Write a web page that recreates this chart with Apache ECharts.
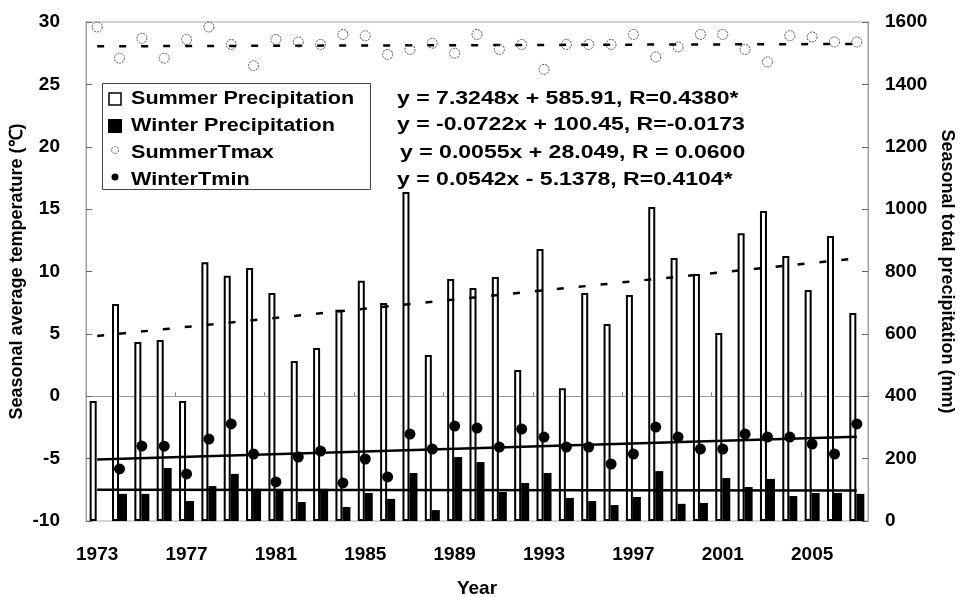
<!DOCTYPE html>
<html>
<head>
<meta charset="utf-8">
<script src="https://cdn.jsdelivr.net/npm/echarts@6/dist/echarts.min.js"></script>
<style>html,body{margin:0;padding:0;background:#fff}#c{width:965px;height:597px}</style>
</head>
<body>
<div id="c"></div>
<script>
const years = ['1973','1974','1975','1976','1977','1978','1979','1980','1981','1982','1983','1984','1985','1986','1987','1988','1989','1990','1991','1992','1993','1994','1995','1996','1997','1998','1999','2000','2001','2002','2003','2004','2005','2006','2007'];
const summerPrecip = [385,696,574,580,385,830,786,811,731,513,555,677,770,699,1055,532,776,747,782,484,872,426,731,632,725,1007,843,792,603,923,994,850,741,914,667];
const winterPrecip = [null,87,87,170,64,112,151,103,99,61,103,45,90,71,154,35,205,189,93,122,154,74,64,51,77,160,55,58,138,109,135,80,90,90,87];
const summerTmax = [29.6,27.1,28.7,27.1,28.6,29.6,28.2,26.5,28.6,28.4,28.2,29.0,28.9,27.4,27.8,28.3,27.5,29.0,27.8,28.2,26.2,28.2,28.2,28.2,29.0,27.2,28.0,29.0,29.0,27.8,26.8,28.9,28.8,28.4,28.4];
const winterTmin = [null,-5.83,-3.99,-4.0,-6.23,-3.43,-2.22,-4.63,-6.87,-4.87,-4.39,-6.95,-5.03,-6.47,-3.03,-4.23,-2.39,-2.55,-4.07,-2.63,-3.27,-4.07,-4.07,-5.43,-4.63,-2.47,-3.27,-4.23,-4.23,-3.03,-3.27,-3.27,-3.83,-4.63,-2.22];
// trend line end values (first year, last year)
const summerPrecipTrend = [593, 842];
const winterPrecipTrend = [100, 98];
const summerTmaxTrend = [28.05, 28.24];
const winterTminTrend = [-5.08, -3.24];
const equations = [
  'y = 7.3248x + 585.91, R=0.4380*',
  'y = -0.0722x + 100.45, R=-0.0173',
  'y = 0.0055x + 28.049, R = 0.0600',
  'y = 0.0542x - 5.1378, R=0.4104*'
];
const legendNames = ['Summer Precipitation','Winter Precipitation','SummerTmax','WinterTmin'];

const chart = echarts.init(document.getElementById('c'), null, {renderer:'canvas'});
const FONT = '"Liberation Sans", Arial, sans-serif';
const last = years.length - 1;
const trend = (v) => [[0, v[0]], [last, v[1]]];

const legendGraphic = [];
legendGraphic.push({type:'rect', left:102, top:83, shape:{width:268, height:106}, style:{fill:'#fff', stroke:'#444', lineWidth:1}, z:10});
const rowY = [99, 126, 153, 180];
legendGraphic.push({type:'rect', shape:{x:109, y:rowY[0]-6, width:12, height:12}, style:{fill:'#fff', stroke:'#000', lineWidth:1.5}, z:11});
legendGraphic.push({type:'rect', shape:{x:108, y:rowY[1]-7, width:14, height:14}, style:{fill:'#000'}, z:11});
legendGraphic.push({type:'circle', shape:{cx:115, cy:rowY[2]-3, r:3.5}, style:{fill:'#fff', stroke:'#666', lineWidth:1, lineDash:[2,1]}, z:11});
legendGraphic.push({type:'circle', shape:{cx:115, cy:rowY[3]-3, r:3.5}, style:{fill:'#000'}, z:11});
legendNames.forEach((n, i) => {
  legendGraphic.push({type:'text', x:131, y:rowY[i], scaleX:1.2, scaleY:1, style:{text:n, font:'bold 18px ' + FONT, fill:'#000', textVerticalAlign:'middle', textBaseline:'middle'}, z:11});
});
const eqX = [397, 397, 400, 397];
equations.forEach((t, i) => {
  legendGraphic.push({type:'text', x:eqX[i], y:rowY[i] + (i===1?-1:0), scaleX:1.28, scaleY:1, style:{text:t, font:'bold 18px ' + FONT, fill:'#000', textVerticalAlign:'middle', textBaseline:'middle'}, z:11});
});

const option = {
  backgroundColor:'#fff',
  animation:false,
  grid:{left:86, right:97, top:22, bottom:76, show:true, borderColor:'#aaa', borderWidth:1, containLabel:false, outerBoundsMode:'none'},
  xAxis:{
    type:'category', data:years, boundaryGap:true,
    name:'Year', nameLocation:'middle', nameGap:58,
    nameTextStyle:{fontFamily:FONT, fontWeight:'bold', fontSize:19, color:'#000'},
    axisLine:{lineStyle:{color:'#999', width:1}},
    axisTick:{show:true, inside:true, length:4, lineStyle:{color:'#888'}},
    axisLabel:{interval:3, margin:24, fontFamily:FONT, fontWeight:'bold', fontSize:19, color:'#000'},
    splitLine:{show:false}
  },
  yAxis:[
    {type:'value', min:-10, max:30, interval:5, position:'left',
     name:'Seasonal average temperature (℃)', nameLocation:'middle', nameGap:60, nameRotate:90, nameMoveOverlap:false,
     nameTextStyle:{fontFamily:FONT, fontWeight:'bold', fontSize:18, color:'#000'},
     axisLine:{show:true, lineStyle:{color:'#999', width:1}},
     axisTick:{show:true, inside:true, length:6, lineStyle:{color:'#666'}},
     axisLabel:{margin:26, fontFamily:FONT, fontWeight:'bold', fontSize:19, color:'#000'},
     splitLine:{show:false}},
    {type:'value', min:0, max:1600, interval:200, position:'right',
     name:'Seasonal total precipitation (mm)', nameLocation:'middle', nameGap:70, nameRotate:-90,
     nameTextStyle:{fontFamily:FONT, fontWeight:'bold', fontSize:18, color:'#000'},
     axisLine:{show:true, lineStyle:{color:'#999', width:1}},
     axisTick:{show:true, inside:true, length:6, lineStyle:{color:'#666'}},
     axisLabel:{margin:17, fontFamily:FONT, fontWeight:'bold', fontSize:19, color:'#000', formatter:(v)=>String(v)},
     splitLine:{show:false}}
  ],
  series:[
    {name:'Summer Precipitation', type:'bar', yAxisIndex:1, data:summerPrecip, barWidth:7, barGap:'0%',
     itemStyle:{color:'#fff', borderColor:'#000', borderWidth:2}, z:2},
    {name:'Winter Precipitation', type:'bar', yAxisIndex:1, data:winterPrecip, barWidth:8, barGap:'0%',
     itemStyle:{color:'#000'}, z:2},
    {name:'sp trend', type:'line', yAxisIndex:1, data:trend(summerPrecipTrend), symbol:'none',
     lineStyle:{color:'#000', width:2.5, type:[7,15]}, z:4},
    {name:'wp trend', type:'line', yAxisIndex:1, data:trend(winterPrecipTrend), symbol:'none',
     lineStyle:{color:'#000', width:2.5}, z:4},
    {name:'st trend', type:'line', yAxisIndex:0, data:trend(summerTmaxTrend), symbol:'none',
     lineStyle:{color:'#000', width:2.5, type:[7,15]}, z:4},
    {name:'wt trend', type:'line', yAxisIndex:0, data:trend(winterTminTrend), symbol:'none',
     lineStyle:{color:'#000', width:2.5}, z:4},
    {name:'SummerTmax', type:'scatter', yAxisIndex:0, data:summerTmax, symbol:'circle', symbolSize:10,
     itemStyle:{color:'rgba(255,255,255,0)', borderColor:'#555', borderWidth:1, borderType:[2,1], opacity:1}, z:5},
    {name:'WinterTmin', type:'scatter', yAxisIndex:0, data:winterTmin, symbol:'circle', symbolSize:11,
     itemStyle:{color:'#000', opacity:1}, z:5}
  ],
  graphic:legendGraphic
};
chart.setOption(option);
</script>
</body>
</html>
